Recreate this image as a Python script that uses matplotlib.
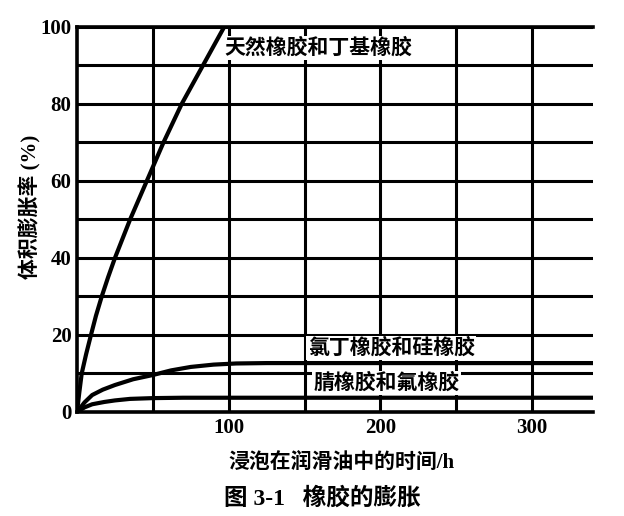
import matplotlib
matplotlib.use('Agg')
import matplotlib.pyplot as plt

plt.rcParams['font.family'] = ['Liberation Serif', 'Noto Sans CJK SC', 'DejaVu Sans']

# data (time in h, swelling in %)
natural_t = [0, 1.5, 3.1, 6, 9.2, 12.5, 16.3, 20.5, 25, 30, 35, 40.5, 46,
             51.5, 57, 63, 69, 76, 83, 90, 97]
natural_v = [0, 5, 10, 15, 20, 25, 30, 35, 40, 45, 50, 55, 60,
             65, 70, 75, 80, 85, 90, 95, 100]

neoprene_t = [0, 5, 10, 17, 25, 37, 50, 62, 75, 90, 105, 125, 340]
neoprene_v = [0, 2.5, 4.4, 5.8, 7.0, 8.5, 9.6, 10.8, 11.7, 12.3, 12.6, 12.7, 12.7]

nitrile_t = [0, 5, 10, 18, 25, 35, 50, 70, 340]
nitrile_v = [0, 1.2, 2.0, 2.6, 3.0, 3.4, 3.6, 3.7, 3.7]

labels = ['天然橡胶和丁基橡胶', '氯丁橡胶和硅橡胶', '腈橡胶和氟橡胶']
x_ticks = [100, 200, 300]
y_ticks = [0, 20, 40, 60, 80, 100]

fig = plt.figure(figsize=(6.24, 5.16), dpi=100)
ax = fig.add_axes([0.1234, 0.2016, 0.8266, 0.7461])

# grid every 50 h and every 10 %
for gx in range(50, 301, 50):
    ax.axvline(gx, color='black', lw=2.2, zorder=1)
for gy in range(10, 101, 10):
    ax.axhline(gy, color='black', lw=2.2, zorder=1)

ax.plot(natural_t, natural_v, color='black', lw=3, zorder=3)
ax.plot(neoprene_t, neoprene_v, color='black', lw=3, zorder=3)
ax.plot(nitrile_t, nitrile_v, color='black', lw=3, zorder=3)

box = dict(facecolor='white', edgecolor='none', pad=1)
ax.text(97, 94.5, labels[0], fontsize=15, fontweight='bold', va='center',
        ha='left', bbox=box, zorder=4)
ax.text(152, 16.6, labels[1], fontsize=15, fontweight='bold', va='center',
        ha='left', bbox=box, zorder=4)
ax.text(156, 7.5, labels[2], fontsize=15, fontweight='bold', va='center',
        ha='left', bbox=box, zorder=4)

ax.set_xlim(0, 340)
ax.set_ylim(0, 100)
ax.set_xticks(x_ticks)
ax.set_yticks(y_ticks)
ax.tick_params(length=0, labelsize=15, pad=4)
for lab in ax.get_xticklabels() + ax.get_yticklabels():
    lab.set_fontweight('bold')

ax.spines['right'].set_visible(False)
for s in ['left', 'bottom', 'top']:
    ax.spines[s].set_linewidth(2.6)

fig.text(30 / 624, 1 - 207 / 516, '体积膨胀率 (%)', rotation=90, fontsize=15,
         fontweight='bold', ha='center', va='center')
fig.text(342 / 624, 1 - 463 / 516, '浸泡在润滑油中的时间/h', fontsize=15,
         fontweight='bold', ha='center', va='center')
fig.text(322 / 624, 1 - 498 / 516, '图 3-1   橡胶的膨胀', fontsize=17,
         fontweight='bold', ha='center', va='center')

fig.savefig('out.png', dpi=100, facecolor='white')
